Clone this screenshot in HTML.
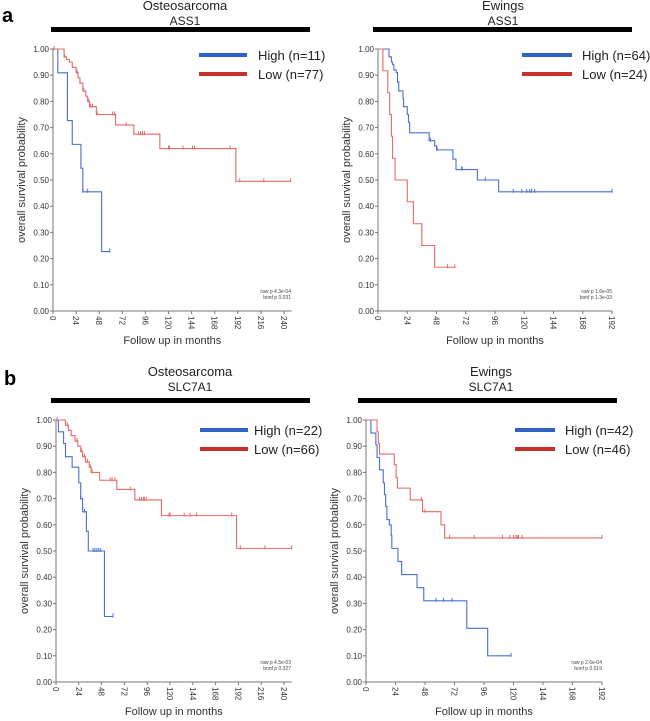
<!DOCTYPE html>
<html><head><meta charset="utf-8"><style>
html,body{margin:0;padding:0;background:#fff;}
svg{display:block;font-family:"Liberation Sans",Arial,sans-serif;}
</style></head><body>
<svg id="fig" width="650" height="721" viewBox="0 0 650 721"></svg>
<script>
// ---- data ----
const yTicks=[0,0.1,0.2,0.3,0.4,0.5,0.6,0.7,0.8,0.9,1.0];
const xTicksA=[0,24,48,72,96,120,144,168,192,216,240];
const xTicksB=[0,24,48,72,96,120,144,168,192];

// Panel a1: Osteosarcoma ASS1
const a1HighT=[5,15,20,29,31,50.5];
const a1HighS=[0.909,0.727,0.636,0.545,0.455,0.227];
const a1HighCens=[31,36,59];
const a1HighEnd=59;
const a1LowT=[11.5,14,17,20,24,26,28,31,34,36,38,45,65,84,111,190];
const a1LowS=[0.97,0.96,0.95,0.93,0.91,0.89,0.87,0.84,0.82,0.80,0.78,0.75,0.71,0.675,0.62,0.495];
const a1LowCens=[1,12,25,28,32,37,39,41,46,62,64,76,89,91,93,95,120,121,135,145,147,184,194,219,247];
const a1LowEnd=247;

// Panel a2: Ewings ASS1
const a2HighT=[9,11,12,13,15,16,17,20.5,21,24,25,26,42,46.5,48,61.5,64,81.5,99];
const a2HighS=[0.97,0.95,0.94,0.92,0.91,0.875,0.84,0.81,0.78,0.75,0.72,0.68,0.65,0.63,0.615,0.58,0.54,0.50,0.455];
const a2HighCens=[16,43,48.5,68.5,69,88,111,118,122,124.5,126,128.5,192];
const a2HighEnd=192;
const a2LowT=[4,8,9.6,11,12,14,24,29,36,46.5];
const a2LowS=[0.917,0.833,0.75,0.667,0.583,0.5,0.417,0.333,0.25,0.167];
const a2LowCens=[57,63];
const a2LowEnd=63;

// Panel b1: Osteosarcoma SLC7A1
const b1HighT=[2.5,8,10,17,24,26,28,32,34,35,51];
const b1HighS=[0.955,0.91,0.86,0.82,0.76,0.70,0.65,0.575,0.50,0.50,0.25];
const b1HighCens=[10,26,30,39,41,43,45,47,60];
const b1HighEnd=60;
const b1LowT=[10,13,16,20,23,26,28,31,35,37,46,64,83,111,190];
const b1LowS=[0.98,0.96,0.94,0.92,0.90,0.88,0.86,0.84,0.82,0.80,0.77,0.735,0.695,0.635,0.51];
const b1LowCens=[1,12,22,27,30,33,36,38,57,59,62,78,88,90,92,93,95,119,120,135,141,148,185,194,220,248];
const b1LowEnd=248;

// Panel b2: Ewings SLC7A1
const b2HighT=[4,8,9,11,14,15,16,17,19,20.5,21,21.5,26,29,41.5,47,82,99];
const b2HighS=[0.95,0.905,0.857,0.81,0.76,0.715,0.67,0.62,0.60,0.56,0.51,0.51,0.46,0.41,0.36,0.31,0.205,0.10];
const b2HighCens=[57,63,70,118];
const b2HighEnd=118;
const b2LowT=[9,10,11,12,23,24.5,25.5,36,46,61,64];
const b2LowS=[0.955,0.91,0.87,0.87,0.83,0.78,0.74,0.695,0.65,0.60,0.55];
const b2LowCens=[45,48,68,88,111,117,120,122,123,124,127,192];
const b2LowEnd=192;

const BLUE="#4a6fd0", RED="#e36a66", BLUE_L="#2f62c4", RED_L="#c8302c";
const NS="http://www.w3.org/2000/svg";
const svg=document.getElementById('fig');
function mk(tag,attrs,parent){const e=document.createElementNS(NS,tag);for(const k in attrs)e.setAttribute(k,attrs[k]);(parent||svg).appendChild(e);return e;}

function survAt(T,S,t){let s=1;for(let i=0;i<T.length;i++){if(T[i]<=t)s=S[i];}return s;}

function panel(cfg){
  const g=mk('g',{});
  
  
  const xs=t=>cfg.x0+(t/cfg.xmax)*(cfg.x1-cfg.x0);
  const ys=v=>cfg.yb+(cfg.yt-cfg.yb)*v;
  // header
  let t=mk('text',{x:cfg.hx,y:cfg.hy,'text-anchor':'middle','font-size':13,fill:'#222'},g);t.textContent=cfg.h1;
  
  t=mk('text',{x:cfg.hx,y:cfg.hy+15,'text-anchor':'middle','font-size':12,fill:'#222'},g);t.textContent=cfg.h2;
  
  const bar=mk('rect',{x:cfg.bx0,y:cfg.by-2,width:cfg.bx1-cfg.bx0,height:5,fill:'#000'},g);
  
  // axes
  const axEnd=xs(cfg.axEnd);
  mk('line',{x1:cfg.x0,y1:cfg.yt,x2:cfg.x0,y2:cfg.yb,stroke:'#777','stroke-width':1},g);
  mk('line',{x1:cfg.x0,y1:cfg.yb,x2:axEnd,y2:cfg.yb,stroke:'#777','stroke-width':1},g);
  yTicks.forEach(v=>{
    const y=ys(v);
    mk('line',{x1:cfg.x0-3,y1:y,x2:cfg.x0,y2:y,stroke:'#777'},g);
    const l=mk('text',{x:cfg.x0-4,y:y+3,'text-anchor':'end','font-size':8,fill:'#333'},g);
    l.textContent=v.toFixed(2);
    
  });
  cfg.xticks.forEach(v=>{
    const x=xs(v);
    mk('line',{x1:x,y1:cfg.yb,x2:x,y2:cfg.yb+3,stroke:'#777'},g);
    const l=mk('text',{x:0,y:0,'text-anchor':'start','font-size':8,fill:'#333',transform:`translate(${x-3},${cfg.yb+5}) rotate(90)`},g);
    l.textContent=v;
    
  });
  t=mk('text',{x:(cfg.x0+axEnd)/2,y:cfg.yb+33,'text-anchor':'middle','font-size':11,fill:'#333'},g);t.textContent='Follow up in months';
  
  t=mk('text',{x:0,y:0,'text-anchor':'middle','font-size':11,fill:'#333',transform:`translate(${cfg.x0-28},${(cfg.yt+cfg.yb)/2}) rotate(-90)`},g);t.textContent='overall survival probability';
  
  // p values
  t=mk('text',{x:cfg.px,y:cfg.yb-18,'text-anchor':'end','font-size':5,fill:'#444'},g);t.textContent=cfg.p1;
  
  t=mk('text',{x:cfg.px,y:cfg.yb-12,'text-anchor':'end','font-size':5,fill:'#444'},g);t.textContent=cfg.p2;
  
  // series
  cfg.series.forEach(s=>{
    let d=`M${xs(0)},${ys(1)}`;
    for(let i=0;i<s.T.length;i++){d+=` H${xs(s.T[i])} V${ys(s.S[i])}`;}
    d+=` H${xs(s.end)}`;
    const p=mk('path',{d:d,fill:'none',stroke:s.color,'stroke-width':1.1},g);
    
    s.C.forEach(c=>{
      const y=ys(survAt(s.T,s.S,c));
      const m=mk('line',{x1:xs(c),y1:y-3,x2:xs(c),y2:y+1,stroke:s.color,'stroke-width':1},g);
      
    });
  });
  // legend
  cfg.series.forEach((s,i)=>{
    const y=cfg.ly+i*cfg.lgap;
    const l=mk('line',{x1:cfg.lx0,y1:y,x2:cfg.lx1,y2:y,stroke:s.lcolor,'stroke-width':4},g);
    
    const tx=mk('text',{x:cfg.lx1+cfg.ltx,y:y+5,'font-size':13,fill:'#222'},g);
    tx.textContent=s.label;
    
  });
}

const la=mk('text',{x:2,y:22,'font-size':20,'font-weight':'bold',fill:'#000'});la.textContent='a';

const lb=mk('text',{x:4,y:385,'font-size':20,'font-weight':'bold',fill:'#000'});lb.textContent='b';


panel({name:'chart-osteosarcoma-ass1',h1:'Osteosarcoma',h2:'ASS1',hx:185,hy:10,bx0:51,bx1:310,by:29,
  x0:53,x1:284,xmax:240,axEnd:248,yt:49,yb:311,xticks:xTicksA,px:291,p1:'raw p 4.3e-04',p2:'bonf p 0.031',
  lx0:199,lx1:247,ly:55,lgap:19,ltx:11,
  series:[{name:'high',T:a1HighT,S:a1HighS,C:a1HighCens,end:a1HighEnd,color:BLUE,lcolor:BLUE_L,label:'High (n=11)'},
          {name:'low',T:a1LowT,S:a1LowS,C:a1LowCens,end:a1LowEnd,color:RED,lcolor:RED_L,label:'Low (n=77)'}]});
panel({name:'chart-ewings-ass1',h1:'Ewings',h2:'ASS1',hx:503,hy:10,bx0:373,bx1:632,by:29,
  x0:378,x1:612,xmax:192,axEnd:192,yt:49,yb:311,xticks:xTicksB,px:612,p1:'raw p 1.6e-05',p2:'bonf p 1.3e-03',
  lx0:522,lx1:572,ly:55,lgap:19,ltx:10,
  series:[{name:'high',T:a2HighT,S:a2HighS,C:a2HighCens,end:a2HighEnd,color:BLUE,lcolor:BLUE_L,label:'High (n=64)'},
          {name:'low',T:a2LowT,S:a2LowS,C:a2LowCens,end:a2LowEnd,color:RED,lcolor:RED_L,label:'Low (n=24)'}]});
panel({name:'chart-osteosarcoma-slc7a1',h1:'Osteosarcoma',h2:'SLC7A1',hx:190,hy:376,bx0:51,bx1:310,by:400,
  x0:56,x1:284,xmax:240,axEnd:248,yt:420,yb:682,xticks:xTicksA,px:291,p1:'raw p 4.5e-03',p2:'bonf p 0.327',
  lx0:200,lx1:248,ly:430,lgap:19,ltx:6,
  series:[{name:'high',T:b1HighT,S:b1HighS,C:b1HighCens,end:b1HighEnd,color:BLUE,lcolor:BLUE_L,label:'High (n=22)'},
          {name:'low',T:b1LowT,S:b1LowS,C:b1LowCens,end:b1LowEnd,color:RED,lcolor:RED_L,label:'Low (n=66)'}]});
panel({name:'chart-ewings-slc7a1',h1:'Ewings',h2:'SLC7A1',hx:491,hy:376,bx0:358,bx1:617,by:400,
  x0:366,x1:602,xmax:192,axEnd:192,yt:420,yb:682,xticks:xTicksB,px:602,p1:'raw p 2.6e-04',p2:'bonf p 0.019',
  lx0:515,lx1:555,ly:430,lgap:19,ltx:10,
  series:[{name:'high',T:b2HighT,S:b2HighS,C:b2HighCens,end:b2HighEnd,color:BLUE,lcolor:BLUE_L,label:'High (n=42)'},
          {name:'low',T:b2LowT,S:b2LowS,C:b2LowCens,end:b2LowEnd,color:RED,lcolor:RED_L,label:'Low (n=46)'}]});
</script>
</body></html>
